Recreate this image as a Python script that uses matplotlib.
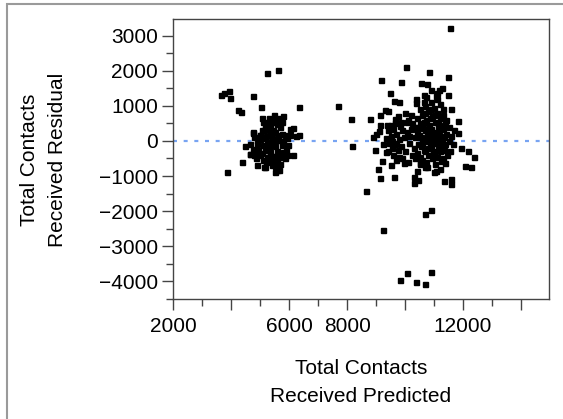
import numpy as np
import matplotlib
matplotlib.use('Agg')
import matplotlib.pyplot as plt
from matplotlib.patches import Rectangle

plt.rcParams['font.family'] = ['Liberation Sans', 'DejaVu Sans']

# predicted values (x) y residuales (y)
pred_left = [3650, 3750, 3910, 3960, 3840, 4250, 4320, 4380, 4750, 5250, 5630, 5010,
             6330, 6330, 6230, 6120, 6030, 6130, 4880, 5130, 5510, 5570, 4490, 4640,
             4740, 4990, 5070, 5470, 5490, 5440, 5780, 5170, 5250, 5570, 5690, 5130,
             5340, 5510, 5740, 5850, 4740, 4800, 4990, 5170, 5400, 5630, 5920, 6030,
             4650, 4880, 5110, 5280, 5510, 5740, 4760, 4940, 5170, 5340, 5570, 5800,
             4650, 4990, 5220, 5450, 5690, 5920, 4860, 5110, 5340, 5570, 5850, 5400,
             5690, 5280, 5110, 5630, 5230, 5400, 4880, 5800, 5970, 5450, 5170,
             5050, 5200, 5350, 5450, 5600, 5750, 5300, 5050, 5600, 5900, 5200, 5500,
             5650, 5000, 5450, 4800, 5350, 5750, 5600, 5300]
resid_left = [1320, 1360, 1430, 1230, -880, 890, 810, -590, 1290, 1940, 2030, 960,
              960, 180, 140, 380, 330, -410, -690, -750, -880, -830, -150, -380,
              230, 160, 650, 730, 630, 540, 710, 440, 350, 490, 400, 300,
              210, 250, 210, 160, 250, 110, 160, 70, 70, 20, 70, 160,
              -80, -80, -120, -100, -140, -120, -220, -260, -260, -310, -290, -310,
              -360, -410, -450, -420, -450, -410, -500, -550, -580, -550, -500, -690,
              -670, 540, 540, 160, -30, -120, 20, -30, -120, -590, -740,
              300, 150, 400, 300, 100, 0, -200, -350, -400, -250, -600, -720,
              -820, 50, -50, -400, -400, 550, 650, 650]

pred_right = [7670, 8140, 8160, 8660, 9240, 9820, 10080, 10380, 10680, 10910, 10700, 10910,
              11560, 10040, 10830, 11480, 9170, 9870, 10550, 10770, 9490, 9610, 9790,
              8800, 9120, 9320, 9400, 8890, 9100, 9050, 9140, 9630, 9200, 10300, 10300,
              10410, 11330, 11600, 11600, 12070, 12270, 12390, 12170, 11940, 11830, 11840,
              11570, 11470, 11290, 11170, 11060, 10710, 10660, 10390, 10370, 9950, 9700,
              9350, 9370, 9660, 9830, 10200, 10060, 11330, 11390, 11010, 11220, 10700,
              10530, 11390,
              9400, 9500, 9600, 9700, 9800, 9450, 9550, 9650, 9750, 9850, 9950, 9400,
              9600, 9800, 9500, 9700, 9900, 10000, 9350, 9650,
              10300, 10300, 10350, 10350, 10400, 10420, 10450, 10400,
              10500, 10520, 10480, 10550, 10500, 10600, 10620, 10580, 10650, 10600,
              10700, 10720, 10680, 10750, 10700, 10720, 10800, 10820, 10780, 10850, 10800,
              10900, 10920, 10880, 10950, 10900, 10920, 11000, 11020, 10980, 11050, 11000, 11030,
              11100, 11120, 11080, 11150, 11100, 11200, 11220, 11180, 11250, 11200, 11230,
              11300, 11320, 11280, 11350, 11300, 11400, 11420, 11380, 11450,
              11500, 11520, 11550, 11600, 11650, 11700,
              10050, 10100, 10150, 10200, 10250, 10100, 10000,
              9000, 9150, 9250, 8950,
              10450, 10550, 10650, 10750, 10850, 10950, 11050, 11150, 11250, 11350,
              10600, 10800, 11000, 11200, 10700, 10900, 11100, 11000, 10850, 11300,
              11250, 10500, 10750, 11050, 10650, 10900, 11100, 10450, 9500, 9750,
              9900, 10150, 10250, 9850, 9550]
resid_right = [980, 630, -150, -1440, -2550, -3970, -3750, -4020, -4060, -3720, -2080, -1970,
               3210, 2090, 1950, 1830, 1740, 1690, 1660, 1610, 1360, 1150, 1100,
               630, 730, 870, 860, 110, 270, -800, -1070, -1020, -580, -1040, -1210,
               -850, -1140, -1090, -1230, -720, -750, -460, -280, -190, 230, 570,
               920, 1300, 1500, 1460, 1290, 1240, 1110, 1180, 1080, -620, -550,
               -310, 440, 610, 420, 750, 540, 440, 520, -880, -800, -740,
               -640, -640,
               300, 150, 350, 200, 50, -50, -200, -100, -250, -150, 100, -300,
               -400, -450, 450, -50, 300, -300, 80, 500,
               400, -200, 100, -500, 650, 250, -80, -350,
               900, 500, 180, -150, -450, 750, 380, 50, -250, -550,
               1000, 600, 300, 0, -300, -600, 850, 450, 150, -100, -400,
               1100, 700, 350, 50, -200, -500, 950, 550, 250, -50, -350, -650,
               800, 400, 100, -200, -450, 1050, 650, 300, 0, -300, -580,
               750, 350, 50, -250, -500, 600, 200, -100, -400,
               400, 0, -300, 150, -100, 300,
               250, 600, -50, 350, -400, -600, 800,
               200, 450, -100, -250,
               400, 100, 550, 200, 300, -300, 200, 500, -150, 100,
               -100, -200, 100, 150, 800, 900, 1200, 750, 650, 900,
               400, -650, -750, -850, 1300, 1450, 1350, -1100, -700, 700,
               -500, 150, 500, 550, 0]

x_vals = pred_left + pred_right
y_vals = resid_left + resid_right

fig = plt.figure(figsize=(5.63, 4.19), dpi=100)
# marco del panel
fig.patches.append(Rectangle((7 / 563, -0.01), 1.0, 1.0 - 4 / 419 + 0.01,
                             transform=fig.transFigure, fill=False,
                             edgecolor='#9a9a9a', linewidth=1.5))
ax = fig.add_axes([173.3 / 563, 1 - 299 / 419, 375.2 / 563, 280 / 419])

ax.axhline(0, color='#78a4f2', linestyle=(0, (1.8, 3.0)), linewidth=1.6, zorder=1)
ax.plot(x_vals, y_vals, linestyle='none', marker='s', markersize=3.6,
        color='black', zorder=2)

ax.set_xlim(2000, 14950)
ax.set_ylim(-4460, 3470)

ax.set_xticks([2000, 4000, 6000, 8000, 10000, 12000, 14000])
ax.set_xticklabels(['2000', '', '6000', '8000', '', '12000', ''])
ax.set_xticks(np.arange(3000, 15000, 2000), minor=True)
ax.set_yticks(np.arange(-4000, 3001, 1000))
ax.set_yticks(np.arange(-4500, 3500, 1000), minor=True)

ax.tick_params(which='major', direction='out', length=8, width=1,
               color='#444444', labelsize=15, labelcolor='black', pad=3)
ax.tick_params(which='minor', direction='out', length=5, width=1, color='#444444')
ax.tick_params(axis='x', which='major', pad=5)
for s in ax.spines.values():
    s.set_color('#444444')
    s.set_linewidth(1)

fig.text(361 / 563, 1 - 382 / 419, 'Total Contacts\nReceived Predicted', fontsize=15,
         ha='center', va='center', linespacing=1.6)
fig.text(43.5 / 563, 1 - 160 / 419, 'Total Contacts\nReceived Residual', fontsize=15,
         ha='center', va='center', rotation=90, linespacing=1.6)

fig.savefig('out.png', dpi=100)
